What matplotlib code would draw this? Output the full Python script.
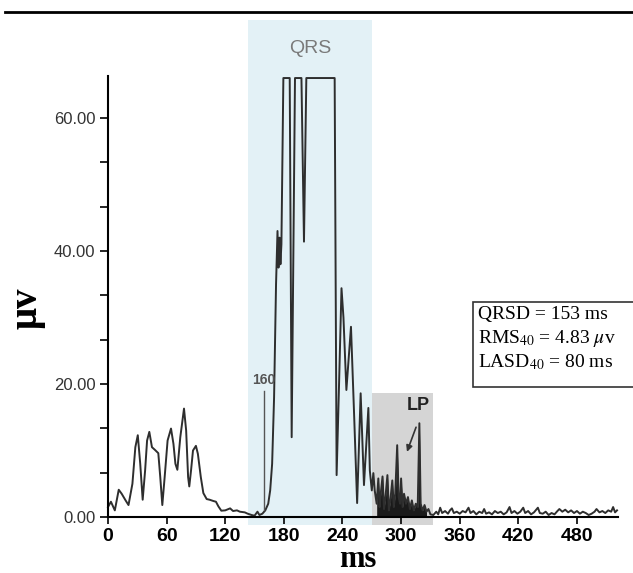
"""Signal-averaged ECG vector magnitude with QRS and late-potential (LP) windows."""

import matplotlib

matplotlib.use("Agg")
import matplotlib.pyplot as plt
from matplotlib.patches import Rectangle
from matplotlib.ticker import MultipleLocator, FormatStrFormatter
import numpy as np

# filtered QRS vector magnitude (ms, microvolt)
time_ms = [
    0, 3, 7, 11, 14, 18, 21, 25, 28, 30.5, 33, 35.5, 38, 40, 42.3, 45, 48,
    51.5, 53.5, 55.6, 58, 61, 64.5, 67, 69, 71, 74, 77.8, 80, 82, 83.2, 85,
    87, 90, 92, 95, 97.6, 101, 104, 108, 110.5, 113, 116, 120, 125, 128, 132,
    135, 140, 143, 147, 150, 153, 155, 158, 161, 164, 166, 168, 170, 172,
    173.5, 174.5, 175.5, 176.5, 177.5, 179.5, 182, 186, 188, 191.4, 198,
    200.6, 203, 232, 234, 236.5, 239, 241, 244, 248.7, 252, 255, 258.6, 262,
    266.5, 268, 270, 271.6, 273, 275, 276.7, 278, 279, 281, 282.5, 284, 286,
    287.5, 289, 291, 292.5, 294, 296, 297.5, 299, 300, 301.5, 303, 305, 307,
    309, 311, 313, 315, 317, 318.7, 320, 322, 324, 326, 328, 330, 333, 336,
    338, 340, 342, 345, 348, 350, 352, 354, 357, 360, 363, 366, 369, 371,
    374, 377, 380, 383, 385, 387, 390, 393, 396, 399, 402, 405, 408, 411,
    413, 416, 419, 422, 425, 427, 430, 433, 436, 440, 442, 445, 448, 451,
    454, 457, 460, 462, 465, 468, 471, 474, 477, 480, 483, 486, 489, 492,
    495, 498, 500, 503, 506, 509, 512, 515, 517, 519, 521,
]
amplitude_uv = [
    1.5, 2.3, 1.0, 4.1, 3.5, 2.5, 1.8, 5.0, 10.5, 12.3, 8.0, 2.6, 7.0, 11.5,
    12.8, 10.5, 10.1, 9.6, 6.0, 1.8, 6.0, 11.5, 13.3, 11.0, 8.0, 7.1, 12.0,
    16.3, 13.0, 6.0, 4.6, 7.0, 10.0, 10.7, 9.5, 6.0, 3.6, 2.7, 2.6, 2.4, 2.3,
    1.6, 0.95, 1.0, 1.3, 0.9, 1.0, 0.8, 0.7, 0.5, 0.3, 0.2, 0.8, 0.3, 0.5,
    1.0, 2.0, 4.0, 8.0, 18.0, 35.0, 43.0, 37.5, 42.0, 38.0, 41.0, 66.0, 66.0,
    66.0, 12.0, 66.0, 66.0, 41.4, 66.0, 66.0, 6.3, 20.0, 34.4, 30.0, 19.1,
    28.6, 15.0, 2.1, 18.6, 4.8, 16.4, 7.0, 4.0, 6.6, 4.0, 2.0, 5.8, 1.5, 3.3,
    6.1, 1.2, 3.0, 6.3, 1.0, 2.5, 5.5, 1.5, 3.5, 10.8, 3.0, 2.0, 5.8, 1.5,
    3.5, 2.0, 3.0, 1.2, 2.5, 1.0, 2.0, 1.5, 14.1, 2.0, 1.0, 1.8, 0.8, 1.2,
    0.4, 0.3, 0.8, 0.4, 1.4, 0.6, 0.9, 0.5, 1.0, 1.3, 0.6, 0.8, 0.5, 0.9,
    0.7, 1.4, 0.6, 0.9, 0.4, 0.8, 0.6, 1.2, 0.5, 0.7, 0.4, 0.9, 0.6, 0.8,
    0.4, 0.7, 1.5, 0.6, 0.9, 0.5, 0.8, 1.4, 0.6, 0.9, 0.4, 0.7, 1.4, 0.6,
    0.5, 0.8, 0.3, 0.6, 0.4, 0.9, 1.2, 0.8, 1.1, 0.7, 1.0, 0.6, 0.9, 0.5,
    0.8, 0.6, 0.3, 0.5, 0.8, 1.2, 0.7, 0.9, 0.6, 1.0, 0.8, 1.5, 0.7, 1.0,
]

qrs_window = (143.5, 270)   # ms
lp_window = (270, 333)      # ms
lp_window_top = 18.6        # uV
qrs_onset = 160             # ms marker
stats_lines = [
    "QRSD = 153 ms",
    r"RMS$_{40}$ = 4.83 $\mu$v",
    r"LASD$_{40}$ = 80 ms",
]

t = np.asarray(time_ms)
v = np.asarray(amplitude_uv)

plt.rcParams["mathtext.fontset"] = "stix"
fig = plt.figure(figsize=(6.33, 5.73), dpi=100)
ax = fig.add_axes([0.1706, 0.0977, 0.8057, 0.7696])
ax.set_facecolor("none")

ax.add_patch(Rectangle((qrs_window[0], -1.2), qrs_window[1] - qrs_window[0], 75.9,
                       facecolor="#e3f1f6", edgecolor="none", zorder=0.5, clip_on=False))
ax.add_patch(Rectangle((lp_window[0], -1.2), lp_window[1] - lp_window[0], lp_window_top + 1.2,
                       facecolor="#d5d5d5", edgecolor="none", zorder=0.6, clip_on=False))

ax.plot(t, v, color="#2e2e2e", lw=1.4, zorder=3, clip_on=False)
dense = (t >= 274) & (t <= 327)
ax.fill_between(t, 0, v, where=dense, color="#1a1a1a", lw=0, zorder=2.9)
ax.plot([qrs_onset, qrs_onset], [1.0, 19.0], color="#555555", lw=1.0, zorder=3)

ax.text(qrs_onset - 1, 19.5, "160", ha="center", va="bottom", fontsize=10,
        fontweight="bold", color="#555555", family="Liberation Sans")
ax.text(318, 15.5, "LP", ha="center", va="bottom", fontsize=13,
        fontweight="bold", color="#222222", family="Liberation Sans")
ax.annotate("", xy=(306, 9.8), xytext=(315.3, 13.5),
            arrowprops=dict(arrowstyle="-|>", color="#333333", lw=1.2,
                            mutation_scale=9, shrinkA=0, shrinkB=0))
ax.text(207, 70.4, "QRS", ha="center", va="center", fontsize=14,
        color="#7a7a7a", family="Liberation Sans")

ax.set_xlim(0, 522)
ax.set_ylim(0, 66.3)
for side in ("top", "right"):
    ax.spines[side].set_visible(False)
for side in ("left", "bottom"):
    ax.spines[side].set_linewidth(1.5)
    ax.spines[side].set_zorder(4)

ax.xaxis.set_major_locator(MultipleLocator(60))
ax.yaxis.set_major_locator(MultipleLocator(20))
ax.yaxis.set_minor_locator(MultipleLocator(20 / 3))
ax.yaxis.set_major_formatter(FormatStrFormatter("%.2f"))
ax.tick_params(axis="y", which="both", direction="out", length=6, width=1.2, pad=3)
ax.tick_params(axis="x", direction="out", length=5, width=1.2, pad=3)
for lab in ax.get_yticklabels():
    lab.set_fontfamily("Liberation Sans")
    lab.set_fontsize(12)
    lab.set_color("#333333")
for lab in ax.get_xticklabels():
    lab.set_fontfamily("Liberation Sans")
    lab.set_fontsize(14)
    lab.set_fontweight("bold")

fig.text(358 / 633, 1 - 567 / 573, "ms", ha="center", va="baseline", fontsize=22,
         fontweight="bold", family="Liberation Serif")
fig.text(27 / 633, 1 - 308 / 573, "\u03bcv", ha="center", va="center", rotation=90,
         fontsize=28, fontweight="bold", family="Liberation Serif")

# stats box, cut off by the right edge
fig.patches.append(Rectangle((473 / 633, 1 - 387 / 573), 0.3, 85 / 573,
                             transform=fig.transFigure, facecolor="white",
                             edgecolor="#333333", lw=1.2))
for i, line in enumerate(stats_lines):
    fig.text(478 / 633, 1 - (319 + 24 * i) / 573, line, ha="left", va="baseline",
             fontsize=14, family="Liberation Serif")

# journal rule across the top
fig.add_artist(plt.Line2D([5 / 633, 1], [1 - 12 / 573] * 2, transform=fig.transFigure,
                          color="black", lw=2))

fig.savefig("out.png", dpi=100)
